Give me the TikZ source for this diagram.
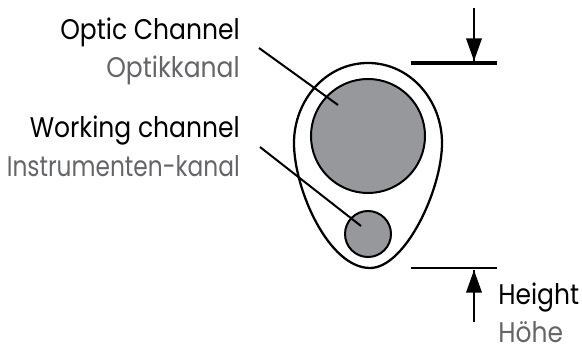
\documentclass[tikz,border=0pt]{standalone}
\usepackage{fontspec}
\setmainfont[FakeStretch=0.88]{Poppins}
\newfontfamily\narrowlabel[FakeStretch=0.82]{Poppins}
\usetikzlibrary{decorations.markings,arrows.meta}
\definecolor{labelgrey}{HTML}{646568}
\definecolor{channelgrey}{HTML}{97989C}
\tikzset{
  en/.style={anchor=base east,inner sep=0pt,font=\fontsize{21.3}{23}\selectfont},
  de/.style={en,text=labelgrey},
  channel/.style={circle,draw,line width=1.5pt,fill=channelgrey,inner sep=0pt},
  bar/.style={line width=2pt},
  dimarrow/.style={line width=2pt,decoration={markings,mark=at position 1 with {\arrow{Triangle[width=11.5pt,length=17pt]}}},postaction={decorate}}
}
\begin{document}
\begin{tikzpicture}[x=0.75pt,y=-0.75pt]
\useasboundingbox (0,0) rectangle (582,349);
% body
\draw[line width=1.7pt] (368,63) .. controls (410,63) and (442,100) .. (442,143) .. controls (442,190) and (405,268) .. (370,268) .. controls (329,268) and (294,190) .. (294,143) .. controls (294,100) and (326,63) .. (368,63) -- cycle;
\node (optic) [channel,minimum size=85.5pt] at (368,136) {};
\node (working) [channel,minimum size=34.5pt] at (368,234) {};
% labels
\node (opticen) [en] at (240,40) {Optic Channel};
\node (opticde) [de] at (240,78) {Optikkanal};
\node (workingen) [en] at (240,138) {Working channel};
\node (workingde) [de] at (240,177) {\narrowlabel Instrumenten-kanal};
\node (heighten) [en,anchor=base west] at (498,304) {Height};
\node (heightde) [de,anchor=base west] at (498,342) {Höhe};
% leaders
\coordinate (opticstart) at (259,48);
\coordinate (opticend) at (338,105);
\coordinate (workingstart) at (260,147);
\coordinate (workingend) at (361,226);
\draw[line width=1.5pt] (opticstart) -- (opticend);
\draw[line width=1.5pt] (workingstart) -- (workingend);
% height
\coordinate (topleft) at (411,63);
\coordinate (topright) at (497,63);
\coordinate (bottomleft) at (411,268);
\coordinate (bottomright) at (497,268);
\coordinate (topstart) at (474,8);
\coordinate (toptip) at (474,61);
\coordinate (bottomstart) at (474,322);
\coordinate (bottomtip) at (474,270);
\draw[bar,line width=2.6pt] (topleft) -- (topright);
\draw[bar] (bottomleft) -- (bottomright);
\draw[dimarrow] (topstart) -- (toptip);
\draw[dimarrow] (bottomstart) -- (bottomtip);
\end{tikzpicture}
\end{document}
